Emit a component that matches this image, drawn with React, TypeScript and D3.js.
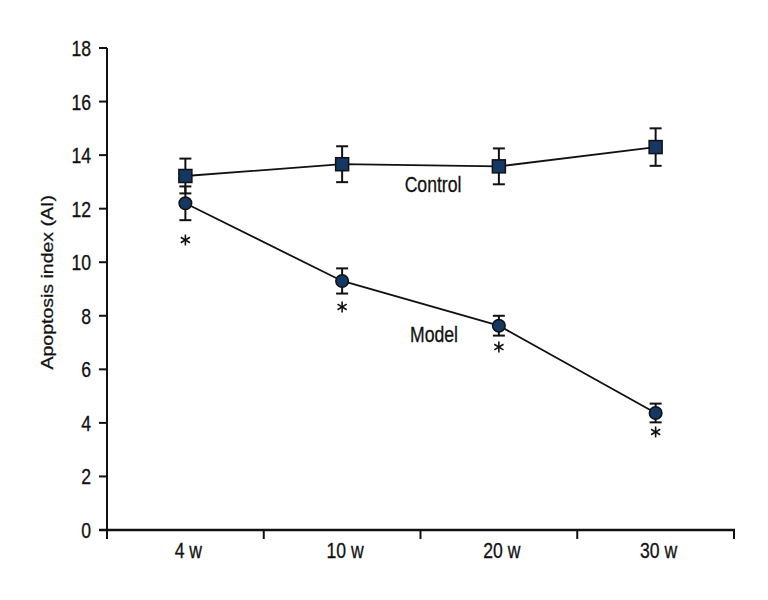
import React from "react";
import * as d3 from "d3";

const categories = ["4 w", "10 w", "20 w", "30 w"];
const controlMean = [13.22, 13.66, 13.58, 14.3];
const controlErr = [0.65, 0.67, 0.67, 0.7];
const modelMean = [12.2, 9.3, 7.63, 4.37];
const modelErr = [0.63, 0.47, 0.37, 0.35];
const asteriskAt = [10.83, 8.33, 6.83, 3.66];
const yTicks = [0, 2, 4, 6, 8, 10, 12, 14, 16, 18];
const seriesLabels = ["Control", "Model"];
const yTitle = "Apoptosis index (AI)";

const W = 768;
const H = 600;
const FONT = "'Liberation Sans', Arial, sans-serif";
const FILL = "#143764";
const INK = "#111";
const SX = 0.8;

function SText(props: {
  x: number;
  y: number;
  anchor?: "start" | "middle" | "end";
  size: number;
  children: React.ReactNode;
}) {
  return (
    <g transform={`translate(${props.x},${props.y}) scale(${SX},1)`}>
      <text
        x={0}
        y={0}
        textAnchor={props.anchor || "middle"}
        fontSize={props.size}
        fill={INK}
        stroke={INK}
        strokeWidth={0.3}
      >
        {props.children}
      </text>
    </g>
  );
}

export default function App() {
  const x = d3.scaleBand<string>().domain(categories).range([107, 734]);
  const y = d3.scaleLinear().domain([0, 18]).range([530, 48]);
  const cx = (c: string) => (x(c) as number) + x.bandwidth() / 2;

  const line = d3
    .line<number>()
    .x((_, i) => cx(categories[i]))
    .y((d) => y(d));

  const capW = 6;

  const errBars = (means: number[], errs: number[]) =>
    means.map((m, i) => {
      const X = cx(categories[i]);
      const t = y(m + errs[i]);
      const b = y(m - errs[i]);
      return (
        <g key={i} stroke={INK} strokeWidth={2}>
          <line x1={X} x2={X} y1={t} y2={b} />
          <line x1={X - capW} x2={X + capW} y1={t} y2={t} />
          <line x1={X - capW} x2={X + capW} y1={b} y2={b} />
        </g>
      );
    });

  const boundaries = [...categories.map((c) => x(c) as number), 734];

  const asterisk = (X: number, Y: number, key: number) => {
    const hy = 5.5;
    const hx = 4.6;
    const dy = 2.8;
    return (
      <g key={key} stroke={INK} strokeWidth={1.6} strokeLinecap="butt">
        <line x1={X} x2={X} y1={Y - hy} y2={Y + hy} />
        <line x1={X - hx} x2={X + hx} y1={Y - dy} y2={Y + dy} />
        <line x1={X - hx} x2={X + hx} y1={Y + dy} y2={Y - dy} />
      </g>
    );
  };

  return (
    <svg
      width={W}
      height={H}
      style={{ position: "absolute", left: 0, top: 0, background: "#fff" }}
      fontFamily={FONT}
    >
      {/* axes */}
      <line x1={107} x2={107} y1={y(18)} y2={538} stroke={INK} strokeWidth={2} />
      <line x1={99} x2={735} y1={y(0)} y2={y(0)} stroke={INK} strokeWidth={2.5} />
      {yTicks.map((t) => (
        <g key={t}>
          <line x1={99} x2={107} y1={y(t)} y2={y(t)} stroke={INK} strokeWidth={2} />
          <SText x={91} y={y(t) + 8} anchor="end" size={22}>
            {t}
          </SText>
        </g>
      ))}
      {boundaries.map((b, i) => (
        <line key={i} x1={b} x2={b} y1={y(0)} y2={y(0) + 9} stroke={INK} strokeWidth={2} />
      ))}
      {categories.map((c) => (
        <SText key={c} x={cx(c) + 3} y={y(0) + 28} size={22}>
          {c}
        </SText>
      ))}
      <g transform={`translate(53, ${y(9.25)}) rotate(-90) scale(1.22,1)`}>
        <text x={0} y={0} textAnchor="middle" fontSize={16} fill={INK} stroke={INK} strokeWidth={0.25}>
          {yTitle}
        </text>
      </g>

      {/* error bars */}
      {errBars(controlMean, controlErr)}
      {errBars(modelMean, modelErr)}

      {/* lines */}
      <path d={line(controlMean) || ""} fill="none" stroke={INK} strokeWidth={1.8} />
      <path d={line(modelMean) || ""} fill="none" stroke={INK} strokeWidth={1.8} />

      {/* markers */}
      {controlMean.map((m, i) => (
        <rect
          key={i}
          x={cx(categories[i]) - 6.5}
          y={y(m) - 6.5}
          width={13}
          height={13}
          fill={FILL}
          stroke={INK}
          strokeWidth={1.5}
        />
      ))}
      {modelMean.map((m, i) => (
        <circle key={i} cx={cx(categories[i])} cy={y(m)} r={6.3} fill={FILL} stroke={INK} strokeWidth={1.5} />
      ))}

      {/* asterisks */}
      {asteriskAt.map((a, i) => asterisk(cx(categories[i]), y(a), i))}

      {/* series labels */}
      <SText x={433} y={192} size={22}>
        {seriesLabels[0]}
      </SText>
      <SText x={434} y={341.5} size={22}>
        {seriesLabels[1]}
      </SText>
    </svg>
  );
}
